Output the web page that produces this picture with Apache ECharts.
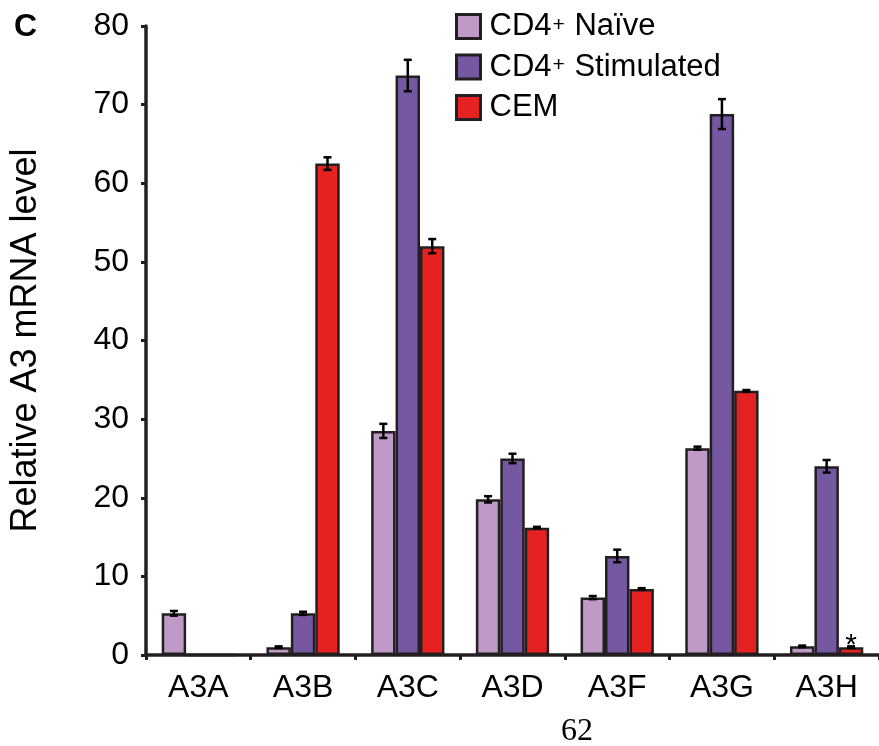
<!DOCTYPE html>
<html>
<head>
<meta charset="utf-8">
<script src="https://cdn.jsdelivr.net/npm/echarts@6/dist/echarts.min.js"></script>
<style>
  html, body { margin: 0; padding: 0; background: #fff; }
  #chart { width: 879px; height: 746px; }
</style>
</head>
<body>
<div id="chart"></div>
<script>
// APOBEC3 family members on the x axis
const genes = ['A3A', 'A3B', 'A3C', 'A3D', 'A3F', 'A3G', 'A3H'];

// Relative mRNA level (mean) per cell type
const naive      = [5.3, 1.0, 28.5, 19.8, 7.3, 26.3, 1.1];
const stimulated = [0,   5.3, 73.7, 25.0, 12.6, 68.8, 24.0];
const cem        = [0,   62.5, 52.0, 16.2, 8.4, 33.6, 1.0];

// Standard error per cell type
const naiveErr      = [0.3, 0.1, 0.9, 0.4, 0.2, 0.2, 0.1];
const stimulatedErr = [0,   0.2, 2.0, 0.6, 0.8, 1.9, 0.8];
const cemErr        = [0,   0.8, 0.9, 0.1, 0.1, 0.1, 0.1];

const yTicks = { min: 0, max: 80, interval: 10 };

const seriesNames = ['CD4+ Naïve', 'CD4+ Stimulated', 'CEM'];
const colors = ['#c09ac7', '#7658a2', '#e62122'];
const edge = '#231f20';
const catGap = 0.30;

const chart = echarts.init(document.getElementById('chart'), null, { renderer: 'canvas' });

function barSeries(name, values, color, starIndex) {
  return {
    name: name,
    type: 'bar',
    barGap: '0%',
    barCategoryGap: (catGap * 100) + '%',
    itemStyle: { color: color, borderColor: edge, borderWidth: 2.5 },
    data: values.map((v, i) => {
      if (i === starIndex) {
        return {
          value: v,
          label: {
            show: true, position: 'top', distance: 0, offset: [0, 14], formatter: '*',
            fontSize: 30, color: '#000', fontFamily: 'Liberation Sans'
          }
        };
      }
      return v;
    }),
    z: 2
  };
}

// error bar points: [category index, mean, error, series slot]
const errData = [];
[[naive, naiveErr], [stimulated, stimulatedErr], [cem, cemErr]].forEach((pair, s) => {
  pair[0].forEach((v, i) => {
    if (v > 0) errData.push([i, v, pair[1][i], s]);
  });
});

const errorSeries = {
  type: 'custom',
  silent: true,
  z: 5,
  encode: { x: 0, y: 1 },
  data: errData,
  renderItem: function (params, api) {
    const idx = api.value(0), v = api.value(1), e = api.value(2), s = api.value(3);
    const base = api.coord([idx, v]);
    const band = api.size([1, 0])[0];
    const groupW = band * (1 - catGap);
    const bw = groupW / 3;
    const cx = base[0] - groupW / 2 + bw * (s + 0.5);
    const top = api.coord([idx, v + e])[1];
    const bot = api.coord([idx, v - e])[1];
    const cap = 4;
    const style = { stroke: '#000', lineWidth: 2.5 };
    return {
      type: 'group',
      children: [
        { type: 'line', shape: { x1: cx, y1: top, x2: cx, y2: bot }, style: style },
        { type: 'line', shape: { x1: cx - cap, y1: top, x2: cx + cap, y2: top }, style: style },
        { type: 'line', shape: { x1: cx - cap, y1: bot, x2: cx + cap, y2: bot }, style: style }
      ]
    };
  }
};

const rich = {
  n: { fontSize: 31, lineHeight: 24, fontFamily: 'Liberation Sans', color: '#000' },
  sup: { fontSize: 21, lineHeight: 12, fontFamily: 'Liberation Sans', color: '#000', verticalAlign: 'top', padding: [0, 1, 12, 1] }
};

chart.setOption({
  animation: false,
  backgroundColor: '#fff',
  textStyle: { fontFamily: 'Liberation Sans' },
  grid: { left: 139, top: 26, bottom: 91, width: 746, containLabel: false },
  legend: {
    orient: 'vertical',
    left: 455,
    top: 11,
    padding: 0,
    itemWidth: 24,
    itemHeight: 24,
    itemGap: 4,
    icon: 'rect',
    selectedMode: false,
    data: seriesNames,
    itemStyle: { borderColor: edge, borderWidth: 3 },
    textStyle: { padding: [0, 0, 0, 4], rich: rich },
    formatter: function (name) {
      if (name.indexOf('CD4+') === 0) {
        return '{n|CD4}{sup|+}{n|' + name.slice(4) + '}';
      }
      return '{n|' + name + '}';
    }
  },
  graphic: [
    { type: 'text', left: 14, top: 11, style: { text: 'C', font: 'bold 32px "Liberation Sans"', fill: '#000' } },
    { type: 'text', left: 561, top: 716, style: { text: '62', font: '32px "Liberation Serif"', fill: '#000' } }
  ],
  xAxis: {
    type: 'category',
    data: genes,
    axisLine: { lineStyle: { color: edge, width: 3.5 } },
    axisTick: { show: true, length: 5, lineStyle: { color: edge, width: 3 } },
    axisLabel: { fontSize: 32, color: '#000', margin: 17, fontFamily: 'Liberation Sans' }
  },
  yAxis: {
    type: 'value',
    min: yTicks.min,
    max: yTicks.max,
    interval: yTicks.interval,
    name: 'Relative A3 mRNA level',
    nameLocation: 'middle',
    nameGap: 102,
    nameTextStyle: { fontSize: 36, color: '#000', fontFamily: 'Liberation Sans' },
    splitLine: { show: false },
    axisLine: { show: true, lineStyle: { color: edge, width: 3.5 } },
    axisTick: { show: true, length: 5, lineStyle: { color: edge, width: 3 } },
    axisLabel: { fontSize: 32, color: '#000', margin: 17, fontFamily: 'Liberation Sans' }
  },
  series: [
    barSeries(seriesNames[0], naive, colors[0], -1),
    barSeries(seriesNames[1], stimulated, colors[1], -1),
    barSeries(seriesNames[2], cem, colors[2], 6),
    errorSeries
  ]
});
</script>
</body>
</html>
